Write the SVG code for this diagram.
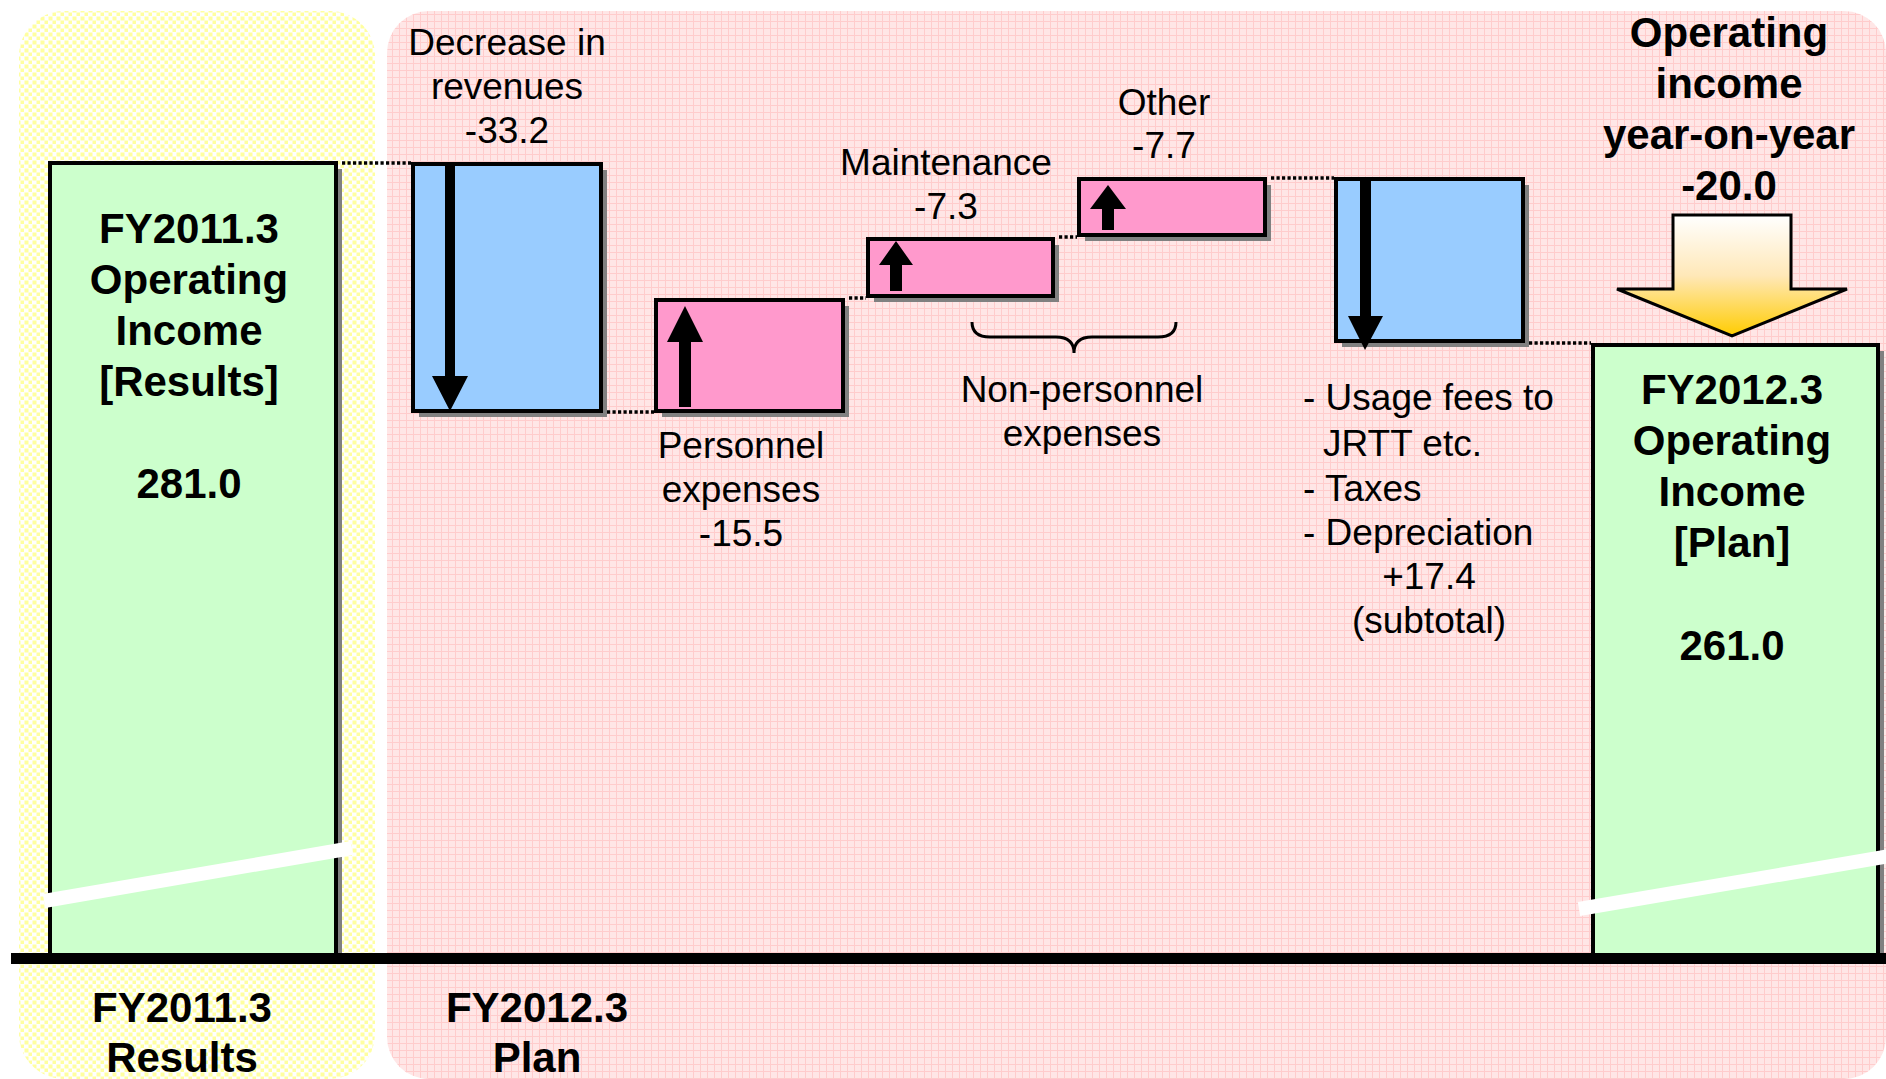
<svg xmlns="http://www.w3.org/2000/svg" width="1886" height="1079" viewBox="0 0 1886 1079">
<defs>
<pattern id="dots" width="8" height="8" patternUnits="userSpaceOnUse">
<rect width="8" height="8" fill="#FFFFFF"/>
<rect x="0.5" y="0.5" width="4" height="4" fill="#FFFFA0"/>
<rect x="4.5" y="4.5" width="4" height="4" fill="#FFFFA0"/>
</pattern>
<pattern id="grid" width="7" height="7" patternUnits="userSpaceOnUse">
<rect width="7" height="7" fill="#FFE6E6"/>
<path d="M0 0.5H7M0.5 0V7" stroke="#FFCCCC" stroke-width="1"/>
</pattern>
<linearGradient id="gold" x1="0" y1="0" x2="0" y2="1">
<stop offset="0" stop-color="#FFFFFF"/>
<stop offset="0.5" stop-color="#FFE8B8"/>
<stop offset="1" stop-color="#FFCC00"/>
</linearGradient>
<style>
.box{stroke:#000;stroke-width:4}
.green{fill:#CCFFCC}
.blue{fill:#99CCFF}
.pink{fill:#FF99CC}
.shadow{fill:#808080}
.dot{stroke:#000;stroke-width:3.5;stroke-dasharray:3.2 2.3;fill:none}
.slash{stroke:#FFFFFF;stroke-width:14}
.t{font-family:"Liberation Sans",Arial,sans-serif;font-size:37px;fill:#000;text-anchor:middle}
.b{font-family:"Liberation Sans",Arial,sans-serif;font-size:42px;font-weight:bold;fill:#000;text-anchor:middle}
.l{text-anchor:start}
</style>
</defs>

<g id="panels">
<rect x="19" y="11" width="356" height="1068" rx="45" ry="45" fill="url(#dots)"/>
<rect x="387" y="11" width="1499" height="1068" rx="42" ry="42" fill="url(#grid)"/>
</g>

<g id="fy2011-results">
<rect class="shadow" x="56" y="169" width="286" height="789"/>
<rect class="box green" x="50" y="163" width="286" height="794"/>
<text class="b" x="189" y="243">FY2011.3</text>
<text class="b" x="189" y="294">Operating</text>
<text class="b" x="189" y="345">Income</text>
<text class="b" x="189" y="396">[Results]</text>
<text class="b" x="189" y="498">281.0</text>
</g>

<g id="revenues">
<rect class="shadow" x="419" y="170" width="188" height="247"/>
<rect class="box blue" x="413" y="164" width="188" height="247"/>
<polygon points="445,164 455,164 455,376 468,376 450,411 432,376 445,376" fill="#000"/>
<text class="t" x="507" y="55">Decrease in</text>
<text class="t" x="507" y="99">revenues</text>
<text class="t" x="507" y="143">-33.2</text>
</g>

<g id="personnel">
<rect class="shadow" x="662" y="306" width="187" height="111"/>
<rect class="box pink" x="656" y="300" width="187" height="111"/>
<polygon points="685,306 703,342 691,342 691,407 679,407 679,342 667,342" fill="#000"/>
<text class="t" x="741" y="458">Personnel</text>
<text class="t" x="741" y="502">expenses</text>
<text class="t" x="741" y="546">-15.5</text>
</g>

<g id="maintenance">
<rect class="shadow" x="874" y="245" width="185" height="57"/>
<rect class="box pink" x="868" y="239" width="185" height="57"/>
<polygon points="896,241 913,265 902,265 902,291 890,291 890,265 879,265" fill="#000"/>
<text class="t" x="946" y="175">Maintenance</text>
<text class="t" x="946" y="219">-7.3</text>
</g>

<g id="other">
<rect class="shadow" x="1085" y="185" width="186" height="56"/>
<rect class="box pink" x="1079" y="179" width="186" height="56"/>
<polygon points="1108,185 1126,209 1114,209 1114,230 1102,230 1102,209 1090,209" fill="#000"/>
<text class="t" x="1164" y="115">Other</text>
<text class="t" x="1164" y="158">-7.7</text>
</g>

<g id="non-personnel">
<path d="M972,322 Q972,337 990,337 L1056,337 Q1074,337 1074,353 Q1074,337 1092,337 L1158,337 Q1176,337 1176,322" fill="none" stroke="#000" stroke-width="3"/>
<text class="t" x="1082" y="402">Non-personnel</text>
<text class="t" x="1082" y="446">expenses</text>
</g>

<g id="usage-fees">
<rect class="shadow" x="1342" y="185" width="187" height="162"/>
<rect class="box blue" x="1336" y="179" width="187" height="162"/>
<polygon points="1360,179 1371,179 1371,316 1383,316 1365,350 1348,316 1360,316" fill="#000"/>
<text class="t l" x="1303" y="410">- Usage fees to</text>
<text class="t l" x="1323" y="456">JRTT etc.</text>
<text class="t l" x="1303" y="501">- Taxes</text>
<text class="t l" x="1303" y="545">- Depreciation</text>
<text class="t" x="1429" y="589">+17.4</text>
<text class="t" x="1429" y="633">(subtotal)</text>
</g>

<g id="yoy">
<text class="b" x="1729" y="47">Operating</text>
<text class="b" x="1729" y="98">income</text>
<text class="b" x="1729" y="149">year-on-year</text>
<text class="b" x="1729" y="200">-20.0</text>
<polygon points="1673,215 1791,215 1791,289 1847,289 1732,336 1617,289 1673,289" fill="url(#gold)" stroke="#000" stroke-width="3"/>
</g>

<g id="fy2012-plan">
<rect class="shadow" x="1599" y="351" width="285" height="607"/>
<rect class="box green" x="1593" y="345" width="285" height="612"/>
<text class="b" x="1732" y="404">FY2012.3</text>
<text class="b" x="1732" y="455">Operating</text>
<text class="b" x="1732" y="506">Income</text>
<text class="b" x="1732" y="557">[Plan]</text>
<text class="b" x="1732" y="660">261.0</text>
</g>

<g id="connectors">
<line class="dot" x1="342" y1="163" x2="411" y2="163"/>
<line class="dot" x1="607" y1="412" x2="654" y2="412"/>
<line class="dot" x1="849" y1="298" x2="866" y2="298"/>
<line class="dot" x1="1059" y1="237" x2="1077" y2="237"/>
<line class="dot" x1="1271" y1="178" x2="1334" y2="178"/>
<line class="dot" x1="1529" y1="343" x2="1591" y2="343"/>
</g>

<g id="breaks">
<line class="slash" x1="44" y1="901" x2="352" y2="848"/>
<line class="slash" x1="1579" y1="909" x2="1890" y2="856"/>
</g>

<g id="axis">
<rect x="11" y="953" width="1875" height="11" fill="#000"/>
<text class="b" x="182" y="1022">FY2011.3</text>
<text class="b" x="182" y="1072">Results</text>
<text class="b" x="537" y="1022">FY2012.3</text>
<text class="b" x="537" y="1072">Plan</text>
</g>
</svg>
